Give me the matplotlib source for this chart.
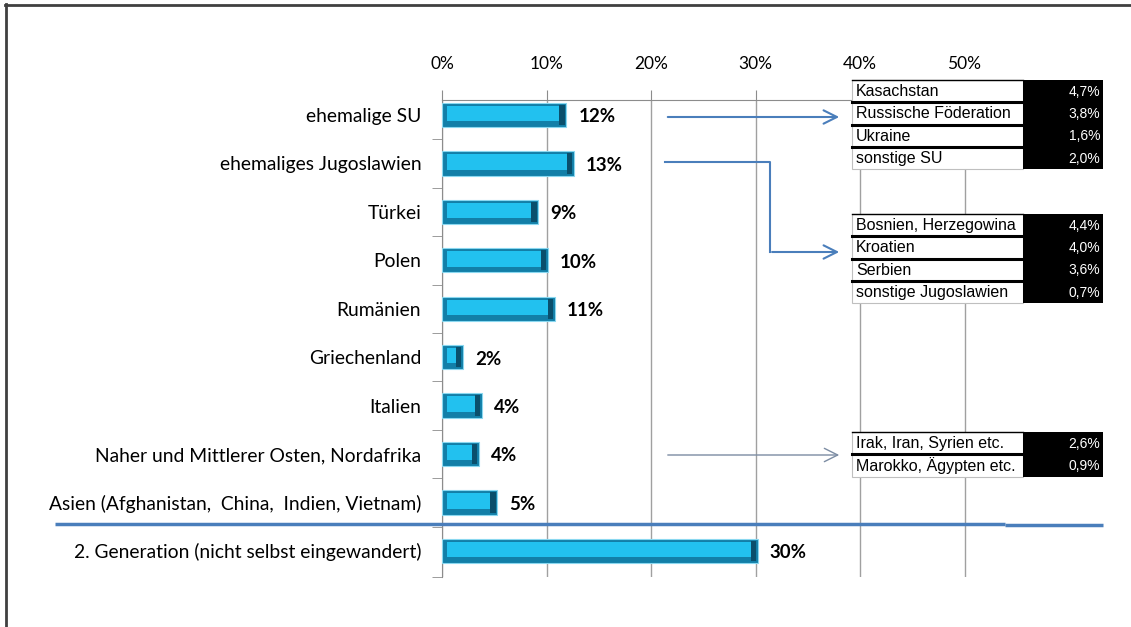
import numpy as np
import matplotlib.pyplot as plt
from matplotlib.patches import Rectangle

categories = ['ehemalige SU', 'ehemaliges Jugoslawien', 'Türkei', 'Polen', 'Rumänien',
              'Griechenland', 'Italien', 'Naher und Mittlerer Osten, Nordafrika',
              'Asien (Afghanistan,  China,  Indien, Vietnam)',
              '2. Generation (nicht selbst eingewandert)']
values = [0.119, 0.126, 0.092, 0.101, 0.108, 0.020, 0.038, 0.035, 0.053, 0.302]
value_labels = ['12%', '13%', '9%', '10%', '11%', '2%', '4%', '4%', '5%', '30%']
xticks = [0, 0.1, 0.2, 0.3, 0.4, 0.5]
xtick_labels = ['0%', '10%', '20%', '30%', '40%', '50%']

su_names = ['Kasachstan', 'Russische Föderation', 'Ukraine', 'sonstige SU']
su_values = ['4,7%', '3,8%', '1,6%', '2,0%']
yu_names = ['Bosnien, Herzegowina', 'Kroatien', 'Serbien', 'sonstige Jugoslawien']
yu_values = ['4,4%', '4,0%', '3,6%', '0,7%']
ost_names = ['Irak, Iran, Syrien etc.', 'Marokko, Ägypten etc.']
ost_values = ['2,6%', '0,9%']

W, H = 1131, 627
fig = plt.figure(figsize=(W / 100, H / 100), dpi=100)
fig.patch.set_facecolor('white')

# main bar chart
ax = fig.add_axes([442 / W, 1 - 577 / H, 627 / W, 477 / H])
y = np.arange(len(categories))
vals = np.array(values)
dx = 5 / 1045  # ~5 px in data units

ax.barh(y, vals, height=0.5, color='#127FA8', edgecolor='#8AD8F0', linewidth=0.8, zorder=3)
ax.barh(y - 0.03, vals - 2 * dx, left=dx, height=0.32, color='#22C1EF', zorder=4)
ax.barh(y, dx * 1.1, left=vals - dx * 1.4, height=0.42, color='#0A4F6C', zorder=4)

for i, (v, lab) in enumerate(zip(vals, value_labels)):
    ax.text(v + 12 / 1045, i + 0.04, lab, va='center', ha='left', fontsize=13.5,
            fontweight='bold', family='Lato', color='black')

ax.set_xlim(0, 0.6)
ax.set_ylim(9.54, -0.31)
ax.xaxis.tick_top()
ax.set_xticks(xticks)
ax.set_xticklabels(xtick_labels, family='Lato', fontsize=12.5)
ax.tick_params(axis='x', direction='out', length=7, color='#8C8C8C', pad=13)
ax.set_yticks(y)
ax.set_yticklabels(categories, family='Lato', fontsize=13.9)
ax.tick_params(axis='y', which='major', length=0, pad=15)
ax.set_yticks(list(np.arange(0.5, 9, 1.0)) + [9.54], minor=True)
ax.tick_params(axis='y', which='minor', direction='out', length=7, color='#8C8C8C')
ax.grid(axis='x', color='#A0A0A0', linewidth=1, zorder=0)
ax.set_axisbelow(True)
for s in ['right', 'bottom']:
    ax.spines[s].set_visible(False)
for s in ['left', 'top']:
    ax.spines[s].set_color('#8C8C8C')

# overlay for frame, arrows and breakdown tables
ov = fig.add_axes([0, 0, 1, 1], zorder=5)
ov.set_xlim(0, W)
ov.set_ylim(H, 0)
ov.axis('off')
ov.patch.set_visible(False)

ov.plot([5, W], [4.5, 4.5], color='#404040', lw=2)
ov.plot([5.5, 5.5], [4, H], color='#404040', lw=2)

ov.plot([55, 1005], [524, 524], color='#4A7EBB', lw=2.5, solid_capstyle='butt')
ov.plot([1005, 1103], [525, 525], color='#4A7EBB', lw=2.5, solid_capstyle='butt')

arrow = dict(arrowstyle='->', color='#4A7EBB', lw=1.5, mutation_scale=24)
ov.annotate('', xy=(842, 117), xytext=(665, 117), arrowprops=arrow)
ov.plot([665, 770, 770], [162, 162, 252], color='#4A7EBB', lw=1.5)
ov.annotate('', xy=(842, 252), xytext=(769.3, 252), arrowprops=arrow)
ov.annotate('', xy=(842, 455), xytext=(665, 455),
            arrowprops=dict(arrowstyle='->', color='#7C8CA3', lw=1, mutation_scale=24))


def draw_table(names, vals_txt, top, row_h=22.3):
    n = len(names)
    for i, (nm, vt) in enumerate(zip(names, vals_txt)):
        y0 = top + i * row_h
        ov.add_patch(Rectangle((852, y0), 171, row_h, fc='white', ec='#BFBFBF', lw=0.8))
        ov.text(856, y0 + row_h / 2 + 0.5, nm, va='center', ha='left', fontsize=11.5,
                family='Liberation Sans', color='black')
        ov.text(1100, y0 + row_h / 2 + 0.5, vt, va='center', ha='right', fontsize=10,
                family='Liberation Sans', color='white')
    ov.add_patch(Rectangle((1023, top), 80, n * row_h, fc='black', ec='none'))
    ov.plot([852, 1023], [top, top], color='black', lw=1)
    for i in range(1, n):
        ov.plot([852, 1023], [top + i * row_h] * 2, color='black', lw=2.2)


draw_table(su_names, su_values, 80)
draw_table(yu_names, yu_values, 214)
draw_table(ost_names, ost_values, 432)

fig.savefig('out.png', dpi=100)
